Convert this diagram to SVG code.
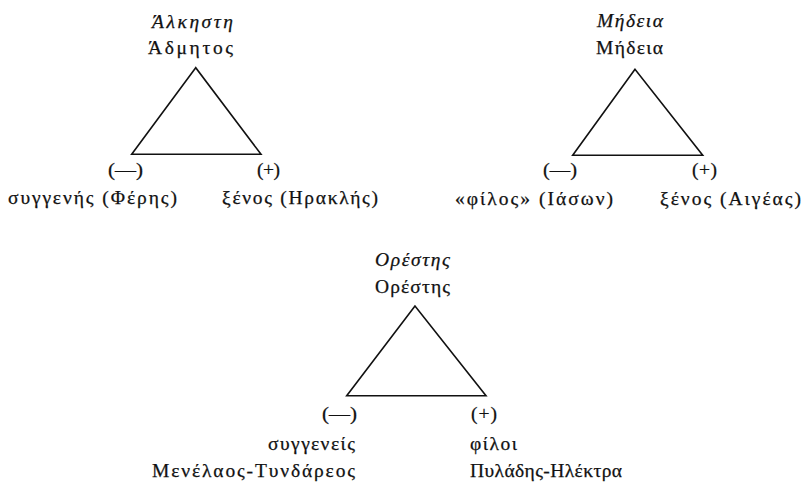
<svg xmlns="http://www.w3.org/2000/svg" width="803" height="483" viewBox="0 0 803 483">
<style>
text{font-family:"Liberation Serif","DejaVu Serif",serif;font-size:19.5px;fill:#111;stroke:#111;stroke-width:0.25;}
.it{font-style:italic;}
.edge{fill:none;stroke:#111;stroke-width:1.6;stroke-linejoin:miter;}
</style>
<rect width="803" height="483" fill="#fff"/>
<g id="connectors">
<polygon class="edge" points="195.7,67.7 131.7,154.3 261,154.3"/>
<polygon class="edge" points="635,69.3 572.7,155.3 702.7,155.3"/>
<polygon class="edge" points="415,306 346.7,395.7 486,395.7"/>
</g>
<g id="alkestis-top">
<text class="it" x="152" y="28" textLength="81" lengthAdjust="spacing">Άλκηστη</text>
<text x="148" y="54" textLength="85" lengthAdjust="spacing">Άδμητος</text>
</g>
<g id="alkestis-left">
<text x="108" y="176" textLength="35" lengthAdjust="spacingAndGlyphs">(—)</text>
<text x="8" y="204" textLength="169" lengthAdjust="spacing">συγγενής (Φέρης)</text>
</g>
<g id="alkestis-right">
<text x="257" y="176" textLength="23" lengthAdjust="spacing">(+)</text>
<text x="222" y="204" textLength="156" lengthAdjust="spacing">ξένος (Ηρακλής)</text>
</g>
<g id="medea-top">
<text class="it" x="597" y="27" textLength="66" lengthAdjust="spacing">Μήδεια</text>
<text x="596" y="54" textLength="67" lengthAdjust="spacing">Μήδεια</text>
</g>
<g id="medea-left">
<text x="543" y="176" textLength="34" lengthAdjust="spacingAndGlyphs">(—)</text>
<text x="455" y="205" textLength="158" lengthAdjust="spacing">«φίλος» (Ιάσων)</text>
</g>
<g id="medea-right">
<text x="692" y="176" textLength="25" lengthAdjust="spacing">(+)</text>
<text x="660" y="205" textLength="141" lengthAdjust="spacing">ξένος (Αιγέας)</text>
</g>
<g id="orestes-top">
<text class="it" x="375" y="266" textLength="75" lengthAdjust="spacing">Ορέστης</text>
<text x="375" y="293" textLength="75" lengthAdjust="spacing">Ορέστης</text>
</g>
<g id="orestes-left">
<text x="322" y="420" textLength="35" lengthAdjust="spacingAndGlyphs">(—)</text>
<text x="268" y="450" textLength="87" lengthAdjust="spacing">συγγενείς</text>
<text x="152" y="477" textLength="203" lengthAdjust="spacing">Μενέλαος-Τυνδάρεος</text>
</g>
<g id="orestes-right">
<text x="471" y="420" textLength="26" lengthAdjust="spacing">(+)</text>
<text x="470" y="450" textLength="47" lengthAdjust="spacing">φίλοι</text>
<text x="470" y="477" textLength="152" lengthAdjust="spacing">Πυλάδης-Ηλέκτρα</text>
</g>
</svg>
